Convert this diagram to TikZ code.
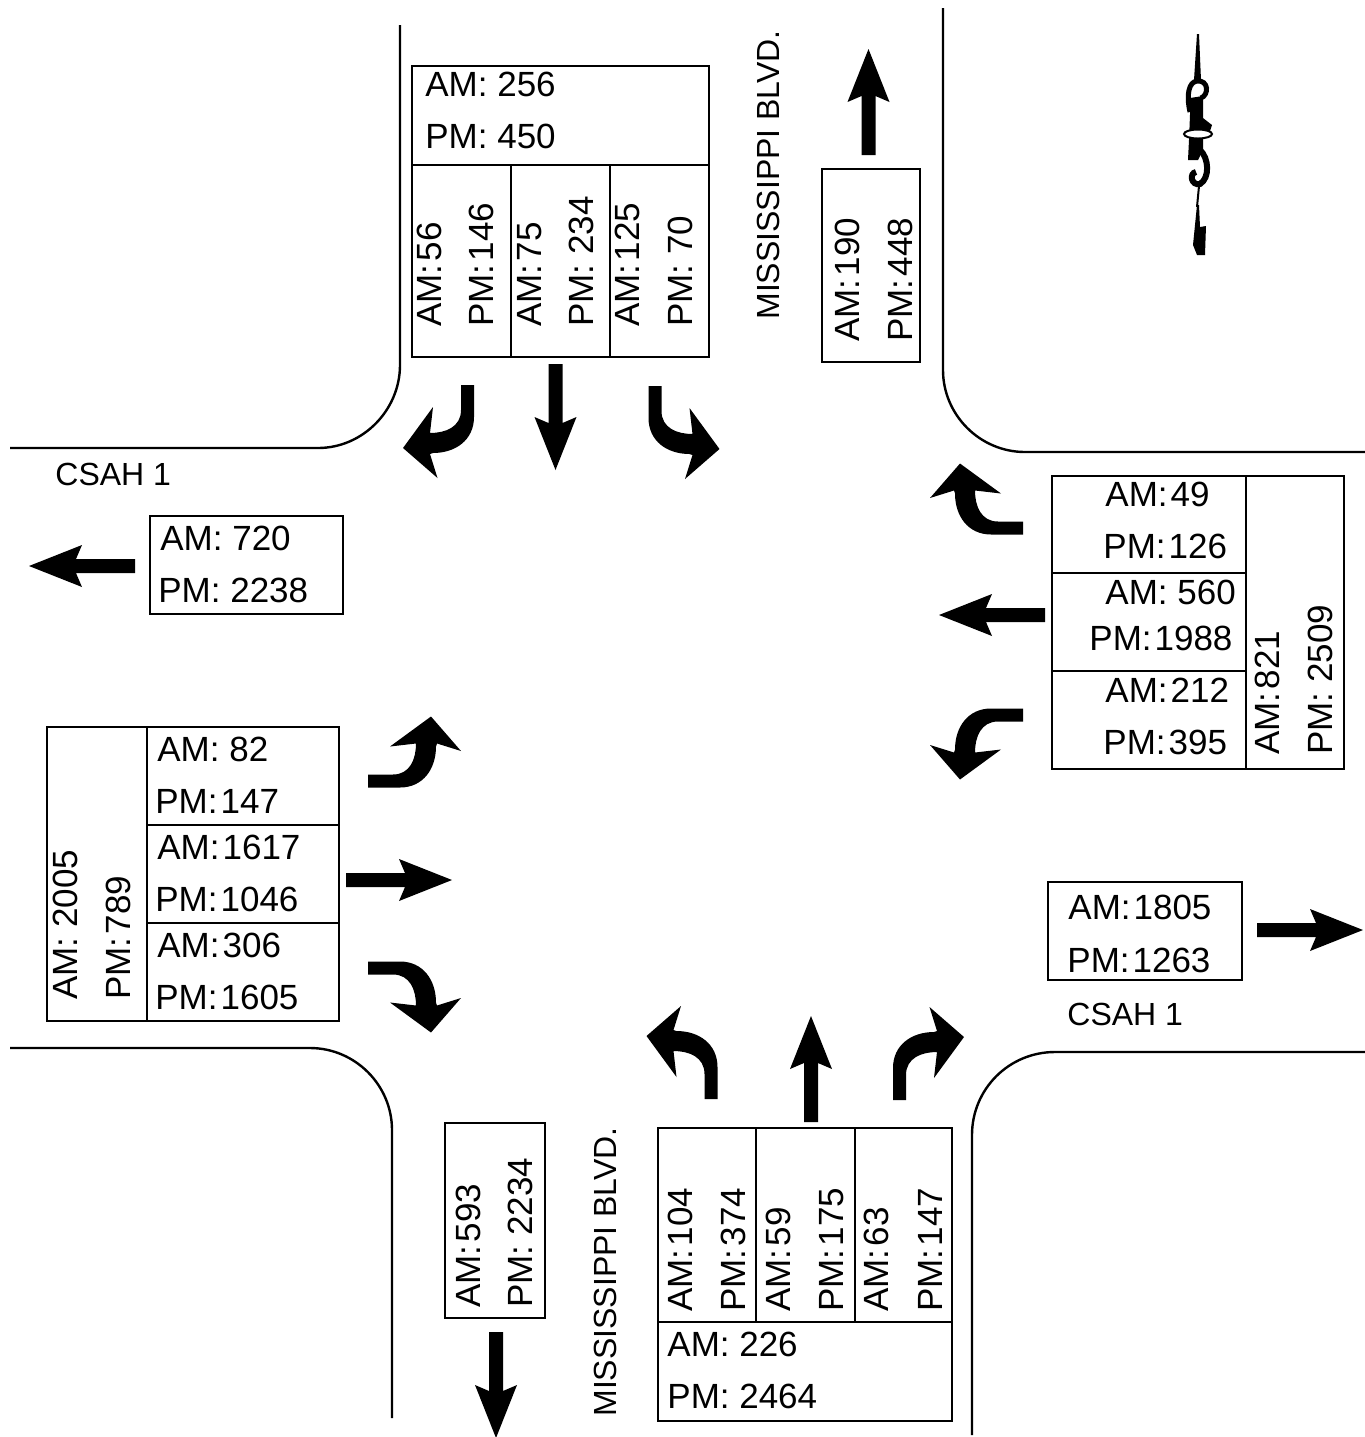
\documentclass[tikz,border=0pt]{standalone}
\usepackage{fontspec}
\setmainfont{Liberation Sans}
\begin{document}
\begin{tikzpicture}[
      x=0.5pt,y=-0.5pt,
      road/.style={line width=1.2pt,black},
      box/.style={draw=black,line width=1pt},
      count/.style={anchor=west,inner sep=0pt,font=\fontsize{17.5}{20}\selectfont,text height=12.25pt,text depth=0pt},
      vcount/.style={count,rotate=90},
      tight/.style={execute at begin node={\spaceskip=1.5pt}},
      street/.style={anchor=west,inner sep=0pt,font=\fontsize{16}{19}\selectfont,text height=11.5pt,text depth=0pt},
      thruarrow/.pic={
          \fill[black] (0,-7) -- (59,-7) -- (53,-21) -- (106,0) -- (53,21) -- (59,7) -- (0,7) -- cycle;
      },
      turnarrow/.pic={
          \fill[black] (6.5,0) -- (6.5,32) .. controls (6.5,55) and (-12,68) .. (-34.5,68)
              -- (-37.5,69) -- (-30,93) -- (-64.5,63) -- (-34.5,22) -- (-37.5,48)
              .. controls (-22,48) and (-6.5,42) .. (-6.5,25) -- (-6.5,0) -- cycle;
      }
]
      \useasboundingbox (0,0) rectangle (1365,1437);
      % road edges
      \draw[road] (400,25) -- (400,365) .. controls (400,410) and (363,448) .. (318,448) -- (10,448);
      \draw[road] (943,8) -- (943,370) .. controls (943,415) and (980,452) .. (1025,452) -- (1365,452);
      \draw[road] (10,1048) -- (310,1048) .. controls (355,1048) and (392,1085) .. (392,1130) -- (392,1418);
      \draw[road] (1365,1052) -- (1055,1052) .. controls (1009,1052) and (972,1089) .. (972,1135) -- (972,1435);
      % north approach
      \draw[box] (412,66) rectangle (709,357);
      \draw[box] (412,165) -- (709,165);
      \draw[box] (511,165) -- (511,357);
      \draw[box] (610,165) -- (610,357);
      \node[count] at (425,84) (n_am) {AM: 256};
      \node[count] at (425,136) (n_pm) {PM: 450};
      \node[vcount,tight] at (429,327) (nr_am) {AM: 56};
      \node[vcount,tight] at (481,327) (nr_pm) {PM: 146};
      \node[vcount,tight] at (529,327) (nt_am) {AM: 75};
      \node[vcount] at (581,327) (nt_pm) {PM: 234};
      \node[vcount,tight] at (627,327) (nl_am) {AM: 125};
      \node[vcount] at (680,327) (nl_pm) {PM: 70};
      \pic[rotate=0] at (467.5,385) {turnarrow};
      \pic[rotate=-90] at (555.5,364) {thruarrow};
      \pic[xscale=-1] at (655,386) {turnarrow};
      % north exit
      \draw[box] (822,169) rectangle (920,362);
      \node[vcount,tight] at (847,342) (nx_am) {AM: 190};
      \node[vcount,tight] at (900,342) (nx_pm) {PM: 448};
      \pic[rotate=90] at (868.5,155) {thruarrow};
      \node[street,rotate=90] at (768,320) (street_n) {MISSISSIPPI BLVD.};
      % west exit
      \draw[box] (150,516) rectangle (343,614);
      \node[count] at (160,538) (wx_am) {AM: 720};
      \node[count] at (158,590) (wx_pm) {PM: 2238};
      \pic[rotate=180] at (135,566) {thruarrow};
      \node[street] at (55,474) (street_w) {CSAH 1};
      % east approach
      \draw[box] (1052,476) rectangle (1344,769);
      \draw[box] (1246,476) -- (1246,769);
      \draw[box] (1052,573) -- (1246,573);
      \draw[box] (1052,671) -- (1246,671);
      \node[count,tight] at (1105,494) (er_am) {AM: 49};
      \node[count,tight] at (1103,546) (er_pm) {PM: 126};
      \node[count] at (1105,592) (et_am) {AM: 560};
      \node[count,tight] at (1089,638) (et_pm) {PM: 1988};
      \node[count,tight] at (1105,690) (el_am) {AM: 212};
      \node[count,tight] at (1103,742) (el_pm) {PM: 395};
      \node[vcount,tight] at (1267,755) (e_am) {AM: 821};
      \node[vcount] at (1320,755) (e_pm) {PM: 2509};
      \pic[rotate=-90] at (1023,528) {turnarrow};
      \pic[rotate=180] at (1045,615) {thruarrow};
      \pic[rotate=-90,xscale=-1] at (1023,715) {turnarrow};
      % west approach
      \draw[box] (47,727) rectangle (339,1021);
      \draw[box] (147,727) -- (147,1021);
      \draw[box] (147,825) -- (339,825);
      \draw[box] (147,923) -- (339,923);
      \node[count] at (157,749) (wl_am) {AM: 82};
      \node[count,tight] at (155,801) (wl_pm) {PM: 147};
      \node[count,tight] at (157,847) (wt_am) {AM: 1617};
      \node[count,tight] at (155,899) (wt_pm) {PM: 1046};
      \node[count,tight] at (157,945) (wr_am) {AM: 306};
      \node[count,tight] at (155,997) (wr_pm) {PM: 1605};
      \node[vcount] at (65,1000) (w_am) {AM: 2005};
      \node[vcount,tight] at (118,1000) (w_pm) {PM: 789};
      \pic[rotate=90,xscale=-1] at (368,781) {turnarrow};
      \pic[rotate=0] at (346,880) {thruarrow};
      \pic[rotate=90] at (368,968) {turnarrow};
      % east exit
      \draw[box] (1048,882) rectangle (1242,980);
      \node[count,tight] at (1068,907) (ex_am) {AM: 1805};
      \node[count,tight] at (1067,960) (ex_pm) {PM: 1263};
      \pic[rotate=0] at (1257,930) {thruarrow};
      \node[street] at (1067,1014) (street_e) {CSAH 1};
      % south exit
      \draw[box] (445,1123) rectangle (545,1318);
      \node[vcount,tight] at (468,1308) (sx_am) {AM: 593};
      \node[vcount] at (520,1308) (sx_pm) {PM: 2234};
      \pic[rotate=-90] at (496,1332) {thruarrow};
      \node[street,rotate=90] at (605,1417) (street_s) {MISSISSIPPI BLVD.};
      % south approach
      \draw[box] (658,1128) rectangle (952,1421);
      \draw[box] (658,1322) -- (952,1322);
      \draw[box] (756,1128) -- (756,1322);
      \draw[box] (855,1128) -- (855,1322);
      \node[vcount,tight] at (680,1312) (sl_am) {AM: 104};
      \node[vcount,tight] at (733,1312) (sl_pm) {PM: 374};
      \node[vcount,tight] at (778,1312) (st_am) {AM: 59};
      \node[vcount,tight] at (831,1312) (st_pm) {PM: 175};
      \node[vcount,tight] at (876,1312) (sr_am) {AM: 63};
      \node[vcount,tight] at (930,1312) (sr_pm) {PM: 147};
      \node[count] at (667,1344) (s_am) {AM: 226};
      \node[count] at (667,1396) (s_pm) {PM: 2464};
      \pic[rotate=180,xscale=-1] at (711,1099) {turnarrow};
      \pic[rotate=90] at (811,1122) {thruarrow};
      \pic[rotate=180] at (899.5,1100) {turnarrow};
      % north sign
      \fill[black] (1197,34) -- (1199,34) -- (1201,80) -- (1194,80) -- cycle;
      \draw[black,line width=2.5pt] (1190,112) .. controls (1186,94) and (1189,82) .. (1197,81)
          .. controls (1209,80) and (1209,95) .. (1201,98);
      \fill[black] (1190,98) -- (1203,96) -- (1203,118) -- (1212,125) -- (1210,131) -- (1203,137)
          -- (1203,150) -- (1198,160) -- (1188,160) -- (1189,140) -- (1190,115) -- cycle;
      \draw[black,line width=3pt] (1200,150) .. controls (1209,158) and (1210,178) .. (1200,184)
          .. controls (1191,186) and (1189,173) .. (1196,172);
      \draw[black,fill=white,line width=1pt] (1198,134) ellipse (14 and 4.5);
      \draw[black,line width=1pt] (1199,186) -- (1197,207);
      \fill[black] (1197,205) -- (1199,205) -- (1200,227) -- (1206,226) -- (1205,255) -- (1197,255) -- (1193,245) -- (1195,225) -- cycle;
\end{tikzpicture}
\end{document}
